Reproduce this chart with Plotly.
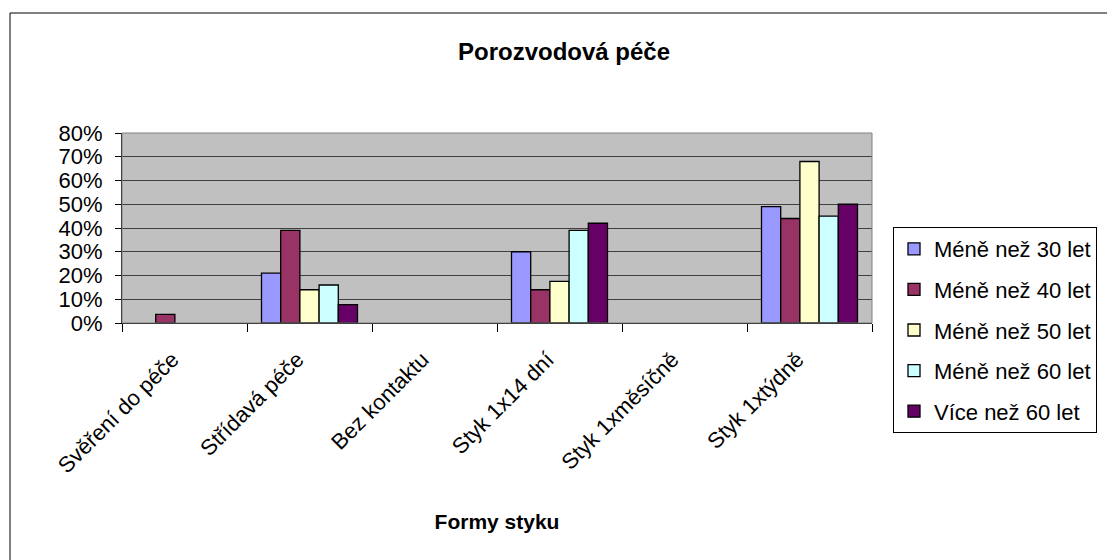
import plotly.graph_objects as go

categories = ["Svěření do péče", "Střídavá péče", "Bez kontaktu",
              "Styk 1x14 dní", "Styk 1xměsíčně", "Styk 1xtýdně"]
series_names = ["Méně než 30 let", "Méně než 40 let", "Méně než 50 let",
                "Méně než 60 let", "Více než 60 let"]
s_30 = [None, 0.21, None, 0.30, None, 0.49]
s_40 = [0.036, 0.39, None, 0.14, None, 0.44]
s_50 = [None, 0.14, None, 0.175, None, 0.68]
s_60 = [None, 0.16, None, 0.39, None, 0.45]
s_60plus = [None, 0.077, None, 0.42, None, 0.50]
series_values = [s_30, s_40, s_50, s_60, s_60plus]
colors = ["#9999FF", "#993366", "#FFFFCC", "#CCFFFF", "#660066"]
y_ticks = [0, 0.1, 0.2, 0.3, 0.4, 0.5, 0.6, 0.7, 0.8]

FONT = "Liberation Sans, Arial, sans-serif"
W, H = 1107, 560
L, R, T, B = 122, 872, 133, 323

fig = go.Figure()
xpos = list(range(len(categories)))
for i, (name, vals) in enumerate(zip(series_names, series_values)):
    fig.add_trace(go.Bar(
        x=xpos, y=vals, name=name, legendgroup=name,
        marker=dict(color=colors[i], line=dict(color="black", width=1.3)),
    ))

pw, ph = R - L, B - T
def px(x):
    return (x - L) / pw
def py(y):
    return (B - y) / ph

fig.update_layout(
    width=W, height=H,
    margin=dict(l=L, r=W - R, t=T, b=H - B, pad=0, autoexpand=False),
    paper_bgcolor="white",
    plot_bgcolor="#C0C0C0",
    barmode="group", bargap=0.232, bargroupgap=0,
    font=dict(family=FONT, color="black", size=21),
    title=dict(text="<b>Porozvodová péče</b>", x=564 / W, xref="container",
               xanchor="center", y=1 - 52 / H, yref="container", yanchor="middle",
               font=dict(size=24, family=FONT, color="black")),
    legend=dict(x=px(893), y=py(227), xanchor="left", yanchor="top",
                bordercolor="black", borderwidth=1, bgcolor="white",
                font=dict(size=22, family=FONT), tracegroupgap=9,
                traceorder="grouped", maxheight=400),
    xaxis=dict(
        range=[-0.5, len(categories) - 0.5],
        tickmode="array", tickvals=xpos, ticktext=categories,
        tickangle=-45, ticks="", showgrid=False, zeroline=False,
        showline=True, linecolor="black", linewidth=1,
        tickfont=dict(size=22, family=FONT),
        ticklabelstandoff=14, ticklabelshift=-12,
        minor=dict(ticks="outside", tick0=-0.5, dtick=1, ticklen=8,
                   tickcolor="black", tickwidth=1, showgrid=False),
        title=dict(text="<b>Formy styku</b>", font=dict(size=21, family=FONT),
                   standoff=37),
        automargin=False,
        fixedrange=True,
    ),
    yaxis=dict(
        range=[0, 0.8], tickmode="array", tickvals=y_ticks,
        tickformat=".0%", ticks="outside", ticklen=6, tickcolor="black",
        showgrid=True, gridcolor="#404040", gridwidth=1,
        zeroline=False, showline=True, linecolor="black", linewidth=1,
        tickfont=dict(size=22, family=FONT), ticklabelstandoff=8,
        automargin=False,
        fixedrange=True,
    ),
    shapes=[
        dict(type="rect", xref="paper", yref="paper",
             x0=0, x1=1, y0=0, y1=1, line=dict(color="#808080", width=1),
             layer="above"),
        dict(type="rect", xref="paper", yref="paper",
             x0=px(10), x1=px(1200), y0=py(620), y1=py(13),
             line=dict(color="black", width=1), layer="below"),
    ],
)

fig.write_html(
    "out.html",
    config={"displayModeBar": False, "staticPlot": True},
    post_script="document.body.style.margin='0';document.body.style.overflow='hidden';",
)
